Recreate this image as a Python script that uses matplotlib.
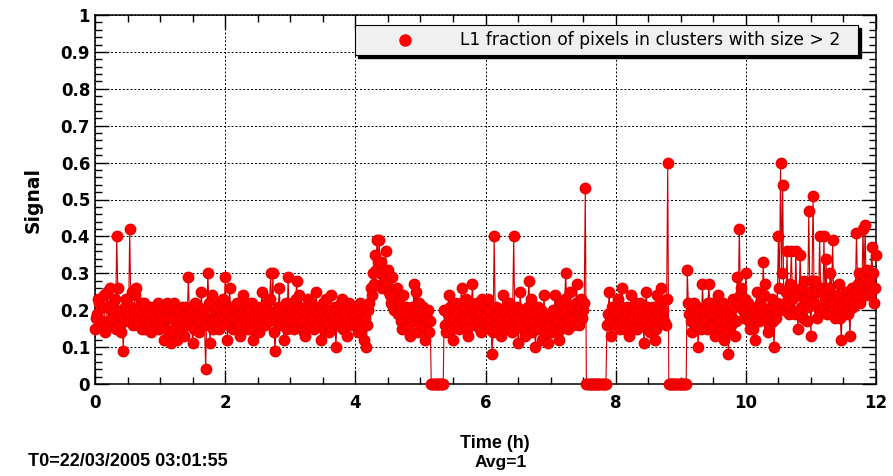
import numpy as np
import matplotlib
matplotlib.use('Agg')
import matplotlib.pyplot as plt
from matplotlib.patches import Rectangle
from matplotlib.ticker import MultipleLocator

# valores: h = minutos pares, g = minutos impares (60 pontos por hora)
h0 = [0.15,0.19,0.22,0.17,0.24,0.16,0.21,0.26,0.18,0.23,0.40,0.19,0.14,0.09,0.21,0.17,0.42,0.25,0.20,0.26,0.16,0.22,0.19,0.15,0.20,0.17,0.14,0.21,0.18,0.22]
h1 = [0.20,0.16,0.12,0.22,0.18,0.11,0.14,0.20,0.12,0.17,0.21,0.13,0.19,0.29,0.16,0.11,0.22,0.18,0.14,0.25,0.20,0.04,0.30,0.11,0.24,0.17,0.21,0.15,0.19,0.23]
h2 = [0.29,0.12,0.26,0.18,0.21,0.15,0.19,0.13,0.24,0.17,0.22,0.20,0.15,0.12,0.21,0.18,0.16,0.25,0.19,0.22,0.17,0.30,0.30,0.09,0.20,0.26,0.18,0.12,0.22,0.29]
h3 = [0.17,0.22,0.19,0.28,0.24,0.16,0.20,0.13,0.23,0.18,0.21,0.15,0.25,0.19,0.12,0.22,0.17,0.20,0.14,0.24,0.18,0.10,0.21,0.16,0.23,0.19,0.13,0.22,0.17,0.20]
h4 = [0.19,0.14,0.22,0.17,0.12,0.10,0.20,0.26,0.30,0.35,0.39,0.39,0.33,0.28,0.36,0.31,0.24,0.29,0.20,0.26,0.22,0.17,0.24,0.15,0.19,0.13,0.21,0.27,0.25,0.18]
h5 = [0.16,0.21,0.12,0.18,0.14,0.0,0.0,0.0,0.0,0.0,0.0,0.20,0.14,0.24,0.17,0.12,0.22,0.19,0.15,0.26,0.18,0.23,0.13,0.20,0.27,0.16,0.22,0.19,0.14,0.21]
h6 = [0.19,0.23,0.15,0.08,0.40,0.21,0.17,0.13,0.24,0.19,0.16,0.22,0.14,0.40,0.18,0.11,0.25,0.20,0.13,0.17,0.28,0.23,0.15,0.10,0.21,0.18,0.12,0.24,0.16,0.11]
h7 = [0.14,0.20,0.24,0.17,0.12,0.22,0.19,0.30,0.15,0.25,0.21,0.18,0.27,0.16,0.23,0.20,0.53,0.0,0.0,0.0,0.0,0.0,0.0,0.0,0.0,0.0,0.16,0.25,0.13,0.20]
h8 = [0.19,0.23,0.15,0.26,0.17,0.21,0.13,0.24,0.18,0.20,0.15,0.22,0.17,0.11,0.25,0.19,0.14,0.21,0.12,0.24,0.18,0.26,0.20,0.16,0.60,0.0,0.0,0.0,0.0,0.0]
h9 = [0.0,0.0,0.0,0.31,0.19,0.14,0.22,0.17,0.10,0.20,0.27,0.18,0.15,0.27,0.22,0.19,0.13,0.24,0.17,0.21,0.12,0.19,0.08,0.16,0.23,0.13,0.29,0.42,0.26,0.18]
h10 = [0.30,0.22,0.15,0.19,0.12,0.25,0.17,0.21,0.33,0.27,0.14,0.20,0.23,0.10,0.18,0.40,0.60,0.54,0.22,0.36,0.19,0.36,0.25,0.36,0.15,0.35,0.21,0.28,0.17,0.47]
h11 = [0.13,0.51,0.28,0.18,0.40,0.25,0.40,0.34,0.22,0.30,0.39,0.18,0.24,0.27,0.12,0.21,0.25,0.19,0.13,0.26,0.22,0.41,0.30,0.24,0.42,0.43,0.31,0.28,0.37,0.22]

g0 = [0.18,0.23,0.16,0.21,0.14,0.25,0.17,0.20,0.22,0.15,0.26,0.16,0.20,0.18,0.23,0.19,0.21,0.16,0.24,0.18,0.20,0.15,0.22,0.18,0.16,0.21,0.19,0.17,0.20,0.15]
g1 = [0.17,0.21,0.15,0.19,0.13,0.18,0.22,0.16,0.20,0.14,0.18,0.21,0.16,0.20,0.18,0.15,0.19,0.21,0.17,0.19,0.16,0.18,0.22,0.17,0.15,0.20,0.17,0.22,0.16,0.18]
g2 = [0.20,0.17,0.21,0.15,0.18,0.22,0.16,0.19,0.18,0.21,0.15,0.18,0.22,0.17,0.19,0.14,0.21,0.18,0.16,0.20,0.23,0.19,0.14,0.17,0.21,0.16,0.20,0.18,0.15,0.19]
g3 = [0.20,0.15,0.23,0.18,0.21,0.17,0.14,0.19,0.16,0.22,0.18,0.20,0.16,0.21,0.17,0.15,0.23,0.16,0.19,0.18,0.21,0.16,0.18,0.22,0.15,0.20,0.18,0.16,0.21,0.18]
g4 = [0.16,0.20,0.15,0.21,0.18,0.16,0.22,0.24,0.27,0.31,0.33,0.30,0.26,0.31,0.27,0.25,0.22,0.21,0.24,0.19,0.20,0.15,0.19,0.21,0.16,0.18,0.17,0.20,0.14,0.22]
g5 = [0.19,0.15,0.17,0.20,0.17,0.0,0.0,0.0,0.0,0.0,0.0,0.16,0.19,0.21,0.15,0.18,0.20,0.16,0.22,0.17,0.21,0.15,0.18,0.22,0.19,0.20,0.17,0.15,0.23,0.18]
g6 = [0.16,0.20,0.18,0.14,0.19,0.15,0.20,0.18,0.15,0.21,0.18,0.15,0.19,0.17,0.21,0.16,0.19,0.15,0.18,0.21,0.19,0.14,0.17,0.19,0.15,0.20,0.17,0.14,0.19,0.16]
g7 = [0.18,0.15,0.20,0.14,0.19,0.16,0.23,0.20,0.18,0.21,0.16,0.22,0.19,0.21,0.18,0.22,0.0,0.0,0.0,0.0,0.0,0.0,0.0,0.0,0.0,0.0,0.19,0.17,0.21,0.16]
g8 = [0.20,0.17,0.21,0.18,0.15,0.19,0.17,0.20,0.15,0.22,0.18,0.16,0.20,0.17,0.21,0.16,0.19,0.18,0.15,0.20,0.22,0.19,0.17,0.23,0.0,0.0,0.0,0.0,0.0,0.0]
g9 = [0.0,0.0,0.0,0.22,0.17,0.20,0.16,0.21,0.18,0.15,0.20,0.17,0.22,0.19,0.16,0.21,0.18,0.20,0.15,0.22,0.17,0.14,0.20,0.18,0.21,0.17,0.22,0.24,0.20,0.23]
g10 = [0.19,0.17,0.21,0.15,0.20,0.17,0.22,0.19,0.24,0.18,0.16,0.21,0.17,0.19,0.22,0.26,0.30,0.20,0.25,0.21,0.27,0.23,0.19,0.24,0.20,0.26,0.18,0.23,0.21,0.25]
g11 = [0.28,0.22,0.25,0.20,0.26,0.21,0.23,0.19,0.26,0.22,0.24,0.20,0.21,0.18,0.22,0.19,0.23,0.20,0.24,0.21,0.25,0.27,0.22,0.26,0.28,0.24,0.27,0.25,0.30,0.26]
ultimo = 0.35

pares = h0 + h1 + h2 + h3 + h4 + h5 + h6 + h7 + h8 + h9 + h10 + h11
impares = g0 + g1 + g2 + g3 + g4 + g5 + g6 + g7 + g8 + g9 + g10 + g11
signal = np.append(np.column_stack([pares, impares]).ravel(), ultimo)
tempo = np.arange(len(signal)) / 60.0

legenda = 'L1 fraction of pixels in clusters with size > 2'
t0_txt = 'T0=22/03/2005 03:01:55'
avg_txt = 'Avg=1'

plt.rcParams['font.family'] = ['DejaVu Sans']

W, H = 893, 476
fig = plt.figure(figsize=(W / 100, H / 100), dpi=100)
ax = fig.add_axes([95 / W, 92 / H, 781 / W, 369 / H])

ax.plot(tempo, signal, color='#cc0000', lw=0.8, marker='o', ms=7.5,
        mfc='#ff0000', mec='#ee0000', zorder=3, clip_on=False)

ax.set_xlim(0, 12)
ax.set_ylim(0, 1)
ax.xaxis.set_major_locator(MultipleLocator(2))
ax.xaxis.set_minor_locator(MultipleLocator(0.5))
ax.yaxis.set_minor_locator(MultipleLocator(0.02))
ax.set_yticks(np.round(np.arange(0, 1.01, 0.1), 1))
ax.set_yticklabels(['0'] + ['%.1f' % v for v in np.arange(0.1, 0.95, 0.1)] + ['1'])

ax.tick_params(which='both', direction='in', top=True, right=True, width=1)
ax.tick_params(which='major', length=10, labelsize=12)
ax.tick_params(which='minor', length=5)
ax.tick_params(axis='x', which='major', pad=7)
for lab in ax.get_xticklabels() + ax.get_yticklabels():
    lab.set_fontweight('bold')
for s in ax.spines.values():
    s.set_linewidth(1.1)

ax.grid(True, which='major', ls=(0, (2, 2)), color='black', lw=0.7)

# legenda estilo ROOT com sombra
x0, y0, w, h = 355 / W, 1 - 55 / H, 503 / W, 30 / H
fig.patches.append(Rectangle((x0 + 3 / W, y0 - 3 / H), w, h, transform=fig.transFigure,
                             facecolor='black', edgecolor='black', zorder=5))
fig.patches.append(Rectangle((x0, y0), w, h, transform=fig.transFigure,
                             facecolor='#f0f0f0', edgecolor='black', lw=0.8, zorder=6))
fig.lines.append(plt.Line2D([405 / W], [1 - 40 / H], marker='o', ms=8, color='#ff0000',
                            transform=fig.transFigure, zorder=7))
fig.text(460 / W, 1 - 40 / H, legenda, fontsize=12.3, va='center', ha='left', zorder=7)

fig.text(33 / W, 1 - 200 / H, 'Signal', rotation=90, fontsize=13.5, fontweight='bold',
         va='center', ha='center')
fig.text(495 / W, 1 - 444 / H, 'Time (h)', fontsize=13, fontweight='bold',
         va='center', ha='center', family=['Liberation Sans'])
fig.text(28 / W, 1 - 462 / H, t0_txt, fontsize=13, fontweight='bold', va='center', ha='left',
         family=['Liberation Sans'])
fig.text(475 / W, 1 - 462 / H, avg_txt, fontsize=12.5, fontweight='bold', va='center', ha='left',
         family=['Liberation Sans'])

fig.savefig('out.png', dpi=100)
